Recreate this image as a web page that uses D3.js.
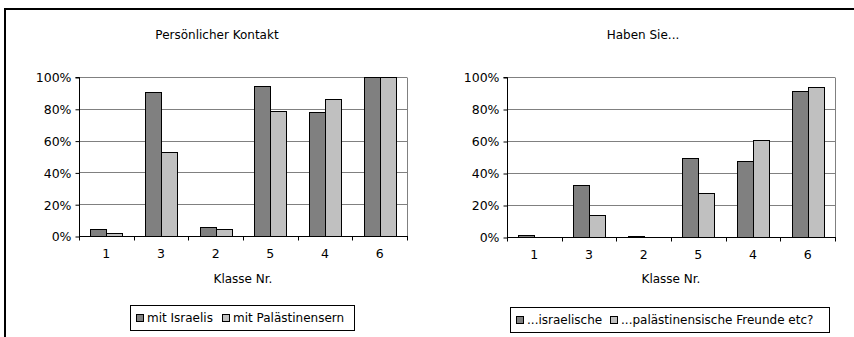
<!DOCTYPE html>
<html><head><meta charset="utf-8">
<script src="https://cdn.jsdelivr.net/npm/d3@7/dist/d3.min.js"></script>
<style>
body{margin:0;background:#fff;}
svg text{font-family:"DejaVu Sans",sans-serif;fill:#000;}
</style></head>
<body><svg id="c" width="854" height="337"></svg>
<script>
const categories = ["1","3","2","5","4","6"];
const yTicks = [0,20,40,60,80,100];
const leftTitle = "Persönlicher Kontakt";
const leftSeriesNames = ["mit Israelis","mit Palästinensern"];
const leftIsraelis = [4.2,90.4,5.6,94.3,78.0,100];
const leftPalaestinenser = [1.7,52.9,4.2,78.9,86.2,100];
const rightTitle = "Haben Sie...";
const rightSeriesNames = ["...israelische","...palästinensische Freunde etc?"];
const rightIsraelische = [1.5,32.3,0.8,49.4,47.7,91.4];
const rightPalaestinensische = [0,13.5,0,27.3,60.4,93.5];
const xTitle = "Klasse Nr.";
const colors = ["#808080","#c0c0c0"];

const svg = d3.select("#c");
// outer frame
svg.append("line").attr("x1",4).attr("x2",854).attr("y1",9).attr("y2",9).attr("stroke","#000").attr("stroke-width",2);
svg.append("line").attr("x1",5).attr("x2",5).attr("y1",8).attr("y2",337).attr("stroke","#000").attr("stroke-width",2);

function chart(cfg){
  const g = svg.append("g");
  const x = d3.scaleBand().domain(categories).range([cfg.x0,cfg.x1]);
  const xi = d3.scaleBand().domain([0,1]).range([0,32]);
  const y = d3.scaleLinear().domain([0,100]).range([cfg.y0,cfg.y1]);
  // title
  g.append("text").attr("x",cfg.titleX).attr("y",39).attr("text-anchor","middle").attr("font-size",12).text(cfg.title);
  // gridlines
  g.selectAll(".grid").data(yTicks.filter(d=>d>0)).enter().append("line")
    .attr("x1",cfg.x0).attr("x2",cfg.x1).attr("y1",d=>Math.round(y(d))+0.5).attr("y2",d=>Math.round(y(d))+0.5)
    .attr("stroke","#808080").attr("stroke-width",1);
  // right border
  g.append("line").attr("x1",cfg.x1+0.5).attr("x2",cfg.x1+0.5).attr("y1",Math.round(y(100))+0.5).attr("y2",y(0)).attr("stroke","#808080");
  // bars
  const series = cfg.series;
  series.forEach((vals,si)=>{
    g.selectAll(".b"+si).data(vals).enter().append("rect")
      .attr("x",(d,i)=>Math.round(x(categories[i])+x.bandwidth()/2-16+xi(si))+0.5)
      .attr("width",xi.bandwidth())
      .attr("y",d=>Math.round(y(d))+0.5)
      .attr("height",d=>Math.max(0,Math.round(y(0))-Math.round(y(d))))
      .attr("fill",colors[si]).attr("stroke","#000").attr("stroke-width",1)
      .style("display",d=>d>0?null:"none");
  });
  // y axis
  const ya = d3.axisLeft(y).tickValues(yTicks).tickFormat(d=>d+"%").tickSize(4).tickPadding(4);
  const yg = g.append("g").attr("transform",`translate(${cfg.x0+0.5},0.5)`).call(ya);
  yg.select(".domain").attr("d",`M-4,${Math.round(y(100))}H0V${Math.round(y(0))}`);
  yg.selectAll("text").attr("font-size",12.5).attr("font-family","DejaVu Sans").attr("fill","#000").attr("dy","0.35em");
  yg.selectAll("line").attr("stroke","#000");
  // x axis
  const xa = d3.axisBottom(x).tickSize(0).tickPadding(13);
  const xg = g.append("g").attr("transform",`translate(0,${Math.round(y(0))+0.5})`).call(xa);
  xg.select(".domain").attr("d",`M${cfg.x0},0H${cfg.x1+1}`).attr("stroke","#000");
  xg.selectAll("text").attr("font-size",12.5).attr("font-family","DejaVu Sans").attr("fill","#000");
  // boundary ticks
  const bounds = categories.map(c=>x(c)).concat([cfg.x1]);
  xg.selectAll(".bt").data(bounds).enter().append("line")
    .attr("x1",d=>Math.round(d)+0.5).attr("x2",d=>Math.round(d)+0.5).attr("y1",0).attr("y2",4).attr("stroke","#000");
  // x title
  g.append("text").attr("x",(cfg.x0+cfg.x1)/2).attr("y",283).attr("text-anchor","middle").attr("font-size",12).text(xTitle);
  // legend
  const lg = g.append("g");
  lg.append("rect").attr("x",cfg.lx+0.5).attr("y",cfg.ly+0.5).attr("width",cfg.lw).attr("height",25).attr("fill","#fff").attr("stroke","#000");
  cfg.names.forEach((n,i)=>{
    lg.append("rect").attr("x",cfg.lx+cfg.sw[i]+0.5).attr("y",cfg.ly+9.5).attr("width",7).attr("height",7).attr("fill",colors[i]).attr("stroke","#000");
    lg.append("text").attr("x",cfg.lx+cfg.sw[i]+11).attr("y",cfg.ly+17).attr("font-size",12).text(n);
  });
}

chart({x0:79,x1:407,y0:236,y1:77,titleX:217,title:leftTitle,series:[leftIsraelis,leftPalaestinenser],
  names:leftSeriesNames,lx:130,ly:305,lw:224,sw:[6,92]});
chart({x0:507,x1:835,y0:237,y1:77,titleX:643,title:rightTitle,series:[rightIsraelische,rightPalaestinensische],
  names:rightSeriesNames,lx:510,ly:307,lw:319,sw:[6,100]});
</script></body></html>
